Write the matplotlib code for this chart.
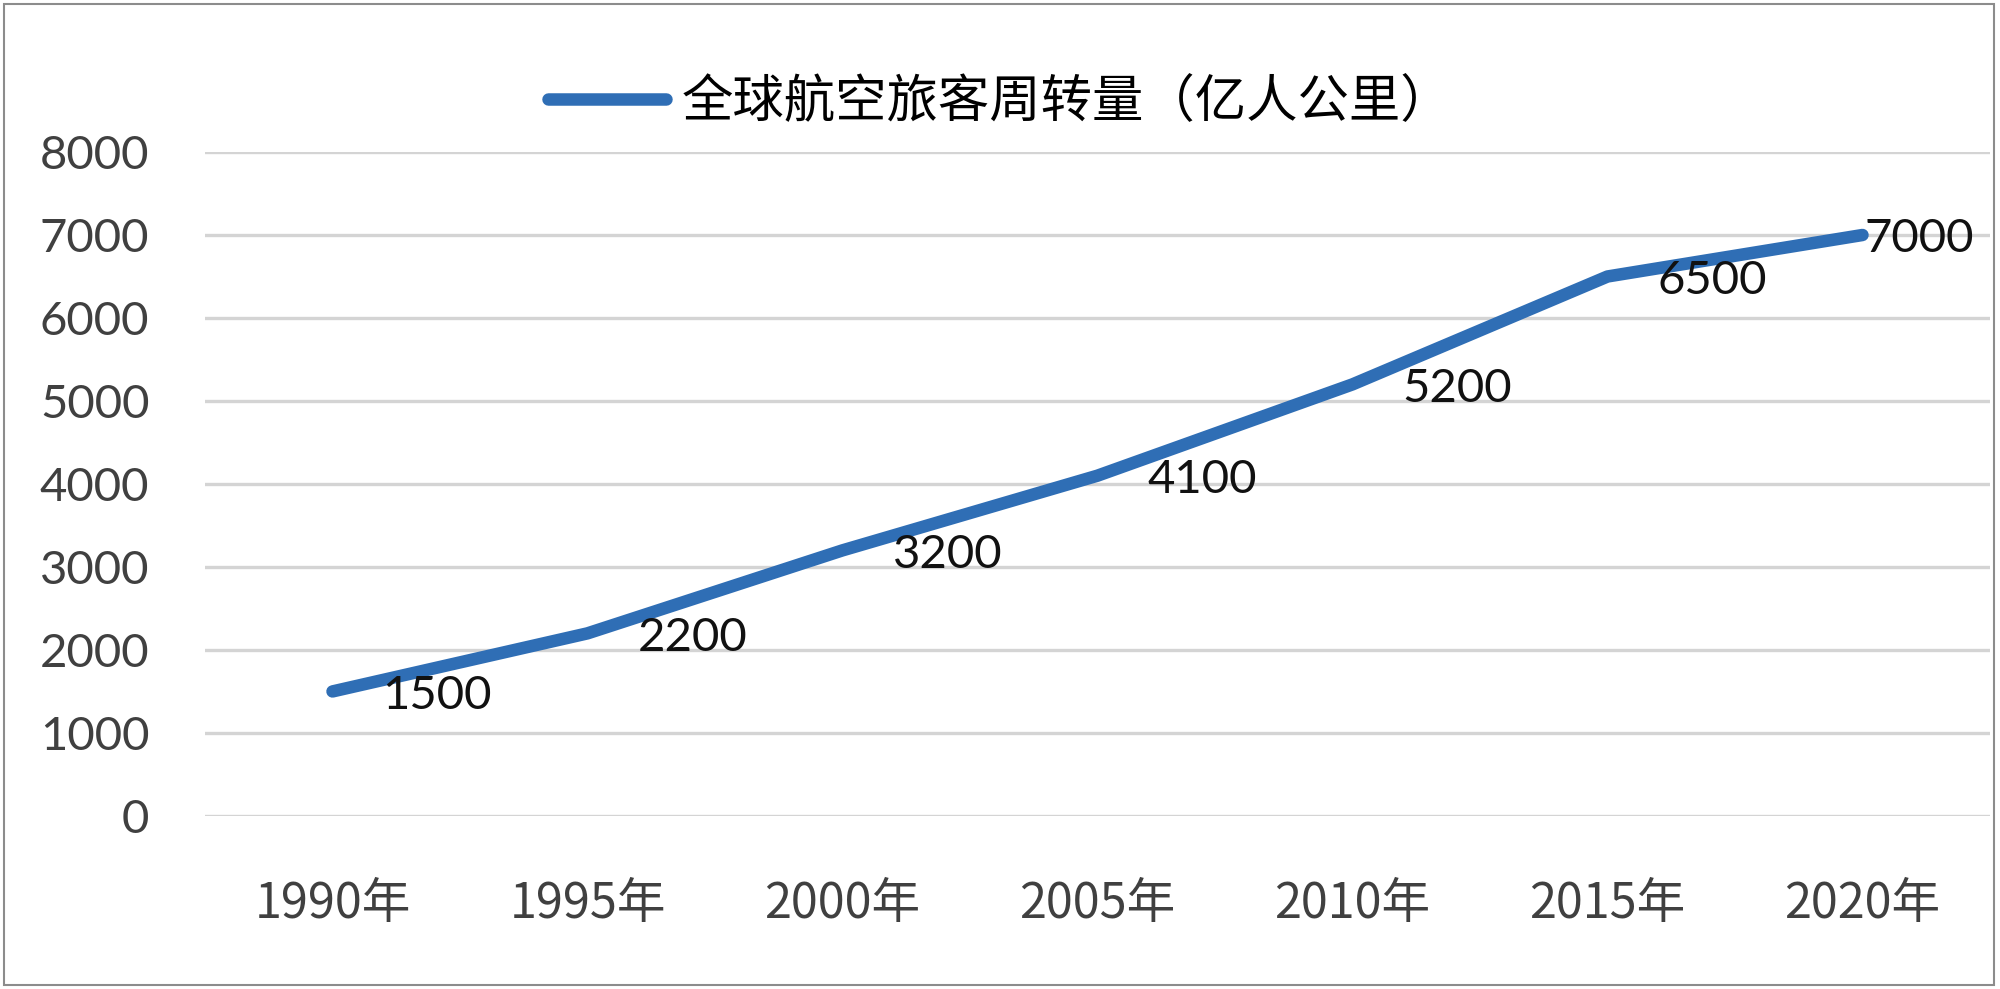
import matplotlib.pyplot as plt
from matplotlib.patches import Rectangle

# data
years = ["1990年", "1995年", "2000年", "2005年", "2010年", "2015年", "2020年"]
passenger_km = [1500, 2200, 3200, 4100, 5200, 6500, 7000]
series_name = "全球航空旅客周转量（亿人公里）"
y_ticks = [0, 1000, 2000, 3000, 4000, 5000, 6000, 7000, 8000]

plt.rcParams["font.family"] = ["Lato", "Noto Sans CJK SC", "DejaVu Sans"]

fig = plt.figure(figsize=(20, 9.89), dpi=100)
ax = fig.add_axes([0.1025, 0.175, 0.8925, 0.6713])

x = list(range(len(years)))
line, = ax.plot(x, passenger_km, color="#2F6EB5", linewidth=9,
                solid_capstyle="round", solid_joinstyle="round",
                label=series_name, zorder=3)

# data labels to the right of each point (last one is squeezed in by the edge)
for i, v in enumerate(passenger_km):
    dx = 2 if i == len(passenger_km) - 1 else 50
    ax.annotate(str(v), (i, v), xytext=(dx * 0.72, -3), textcoords="offset points",
                ha="left", va="center", fontsize=34, color="#111111", zorder=4)

ax.set_xlim(-0.5, len(years) - 0.5)
ax.set_ylim(0, 8000)
ax.set_xticks(x)
ax.set_xticklabels(years, fontsize=35, color="#404040",
                   family=["Noto Sans CJK SC", "DejaVu Sans"])
ax.set_yticks(y_ticks)
ax.set_yticklabels([str(t) for t in y_ticks], fontsize=34, color="#404040")
ax.tick_params(axis="x", length=0, pad=46)
ax.tick_params(axis="y", length=0, pad=40)

ax.grid(axis="y", color="#D4D4D4", linewidth=2.4, zorder=0)
for s in ax.spines.values():
    s.set_visible(False)

fig.legend(handles=[line], loc="center", bbox_to_anchor=(0.5, 1 - 102 / 989),
           frameon=False, handlelength=2.3, handletextpad=0.3,
           prop={"family": ["Noto Sans CJK SC", "DejaVu Sans"], "size": 37})

# outer border of the chart
fig.patches.append(Rectangle((0.002, 0.004), 0.995, 0.992, transform=fig.transFigure,
                             fill=False, edgecolor="#8C8C8C", linewidth=1.5))

fig.savefig("out.png", dpi=100)
